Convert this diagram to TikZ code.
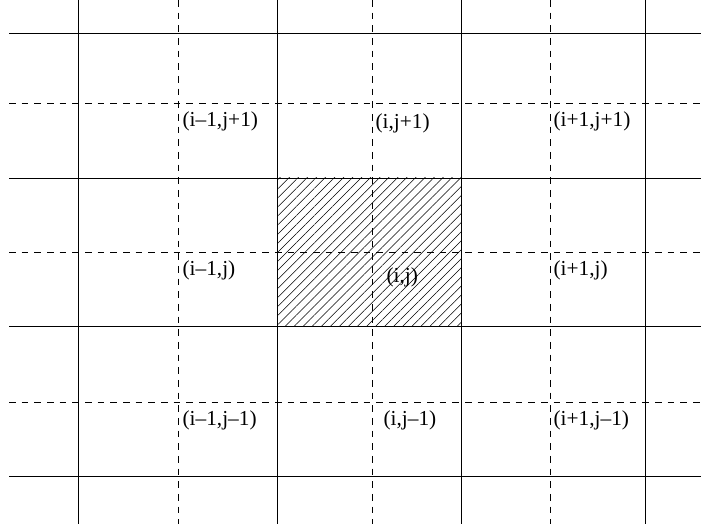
\documentclass[tikz,border=0pt]{standalone}
\usepackage{fontspec}
\setmainfont{Liberation Serif}
\usetikzlibrary{patterns.meta}

\begin{document}
\begin{tikzpicture}[x=0.75pt,y=-0.75pt,
  gridline/.style={line width=0.6pt},
  halfline/.style={line width=0.5pt,dash pattern=on 5pt off 4.5pt},
  celllabel/.style={anchor=west,inner sep=1pt,font=\fontsize{16}{19}\selectfont}]
  \useasboundingbox (0,0) rectangle (701,530);
  % hatched cell (i,j)
  \fill[pattern={Lines[angle=45,distance=4.8pt,line width=0.4pt]}] (277,178) rectangle (461,326);
  % cell faces (solid)
  \foreach \y in {33.7,178,326,476}
    \draw[gridline] (9,\y) -- (701,\y);
  \foreach \x in {78,277,461,645}
    \draw[gridline] (\x,0) -- (\x,524);
  % cell centres (dashed)
  \foreach \y in {103.3,252.7,402}
    \draw[halfline] (9,\y) -- (701,\y);
  \foreach \x in {178,372,550}
    \draw[halfline] (\x,0) -- (\x,524);
  % labels
  \node[celllabel] (im1jp1) at (181,121) {(i–1,j+1)};
  \node[celllabel] (ijp1)   at (374,123) {(i,j+1)};
  \node[celllabel] (ip1jp1) at (552,121) {(i+1,j+1)};
  \node[celllabel] (im1j)   at (181,270) {(i–1,j)};
  \node[celllabel] (ij)     at (385,277) {(i,j)};
  \node[celllabel] (ip1j)   at (552,270) {(i+1,j)};
  \node[celllabel] (im1jm1) at (181,420) {(i–1,j–1)};
  \node[celllabel] (ijm1)   at (382,420) {(i,j–1)};
  \node[celllabel] (ip1jm1) at (552,420) {(i+1,j–1)};
\end{tikzpicture}
\end{document}
